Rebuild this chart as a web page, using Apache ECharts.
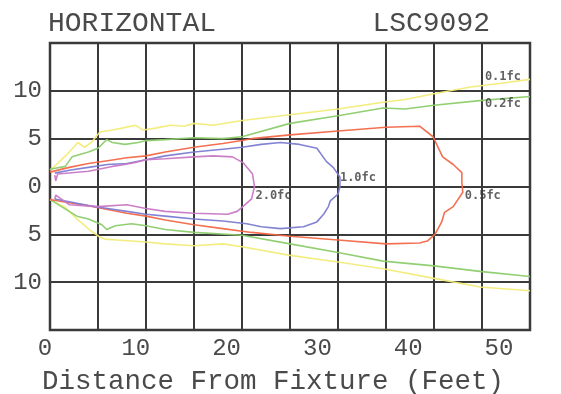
<!DOCTYPE html>
<html>
<head>
<meta charset="utf-8">
<script src="https://cdn.jsdelivr.net/npm/echarts@6/dist/echarts.min.js"></script>
<style>html,body{margin:0;padding:0;background:#fff}#c{width:561px;height:394px}</style>
</head>
<body>
<div id="c"></div>
<script>
const titleLeft = 'HORIZONTAL';
const titleRight = 'LSC9092';
const xAxisTitle = 'Distance From Fixture (Feet)';
const xTickValues = [0, 10, 20, 30, 40, 50];
const yTickValues = [-10, -5, 0, 5, 10];

const fc01Upper = [[0,1.7],[1,2.6],[2,3.6],[2.9,4.6],[3.6,4.1],[4.3,4.6],[5.2,5.7],[6.5,5.9],[7.5,6.1],[8.9,6.4],[9.7,5.9],[11,6.1],[12.5,6.4],[14,6.3],[15,6.6],[17,6.4],[20,6.9],[25,7.5],[30,8.1],[34.7,8.8],[37,9.1],[40,9.7],[43.8,10.4],[47,10.8],[50,11.2]];
const fc01Lower = [[0,-1.4],[1.6,-2.2],[2.8,-3.4],[3.3,-3.8],[4.2,-4.6],[5.2,-5.3],[5.7,-5.5],[7,-5.6],[8.5,-5.7],[10,-5.8],[12,-6.0],[15,-6.2],[18,-6.0],[20,-6.3],[25,-7.2],[30,-7.9],[34.7,-8.6],[40,-9.6],[44.8,-10.5],[50,-10.9]];
const fc02Upper = [[0,1.8],[1.6,2.1],[2.3,3.1],[4,3.6],[5,4.0],[5.9,4.9],[6.5,4.6],[7.8,4.4],[9.2,4.6],[10,4.8],[12,4.9],[15,5.1],[18,5.0],[20,5.2],[25,6.6],[30,7.4],[34.7,8.2],[37,8.1],[40,8.5],[45,9.0],[50,9.4]];
const fc02Lower = [[0,-1.35],[1.2,-2.1],[2.8,-3.1],[4,-3.4],[5.4,-4.0],[5.9,-4.5],[6.8,-4.1],[8.5,-3.9],[10,-4.1],[12,-4.5],[15,-4.8],[20,-5.1],[25,-6.0],[30,-6.9],[34.7,-7.8],[40,-8.3],[45,-8.9],[50,-9.4]];
const fc05 = [[0,1.5],[2,2.0],[4,2.4],[6,2.7],[8,3.0],[10,3.2],[12,3.6],[15,4.1],[18,4.5],[20,4.8],[21,5.0],[25,5.4],[30,5.8],[35,6.2],[38.5,6.3],[39.9,5.2],[40.9,3.1],[42,2.3],[42.9,1.45],[42.9,0.5],[43,-0.6],[42,-2.1],[41.1,-2.7],[40.8,-3.7],[40.1,-5.0],[39.3,-5.7],[38.5,-5.9],[35,-6.0],[30,-5.6],[25,-5.2],[21,-4.8],[18,-4.4],[15,-4.0],[12,-3.5],[10,-3.1],[8,-2.8],[6,-2.4],[4,-2.0],[2,-1.7],[0,-1.35]];
const fc10 = [[0.5,1.4],[2,1.7],[4,2.0],[6,2.3],[8,2.4],[10,2.8],[12,3.2],[15,3.6],[18,3.9],[20,4.1],[22,4.4],[24,4.6],[26,4.4],[27.8,4.0],[28.8,2.6],[29.5,2.0],[30.2,1.0],[30.2,0],[30,-0.8],[29.2,-1.5],[29,-2.1],[28.5,-2.9],[27.8,-3.7],[26.4,-4.2],[24,-4.4],[22,-4.2],[20.5,-3.9],[18,-3.6],[15,-3.4],[12,-3.1],[10,-2.9],[8,-2.6],[6,-2.3],[4,-2.0],[2,-1.6],[0.5,-1.3]];
const fc20 = [[0.5,1.2],[0.6,0.6],[0.8,1.3],[4,1.6],[6.5,2.1],[7.8,2.3],[8.9,2.5],[10,2.8],[12,2.9],[15,3.1],[17,3.2],[19,3.1],[20.1,2.5],[21.1,1.3],[21.3,0],[21,-1.3],[20.2,-2.0],[19.5,-2.6],[18.5,-2.9],[15,-2.8],[12,-2.6],[10,-2.3],[8,-1.9],[5,-2.1],[2,-1.9],[0.6,-0.9],[0.5,-1.3]];

const contourNames = ['0.1fc','0.2fc','0.5fc','1.0fc','2.0fc'];
const contourLabelAt = [[45.3,11.5],[45.3,8.6],[43.2,-1.0],[30.2,0.95],[21.4,-1.0]];

const cYellow = '#f2ec78', cGreen = '#8ccc6c', cRed = '#f26848', cBlue = '#7c7cd2', cPurple = '#c878c6';

function lineSeries(data, color) {
  return { type: 'line', data: data, showSymbol: false, symbol: 'none', silent: true,
    xAxisIndex: 0, yAxisIndex: 0,
    lineStyle: { color: color, width: 1.6, opacity: 0.95 }, z: 3, animation: false };
}

const chart = echarts.init(document.getElementById('c'), null, { renderer: 'canvas' });
const mono = 'Liberation Mono';
const txt = '#4a4a4a';
chart.setOption({
  animation: false,
  backgroundColor: '#ffffff',
  title: [
    { text: titleLeft, left: 43, top: 5, textStyle: { fontFamily: mono, fontSize: 28, fontWeight: 'normal', color: txt } },
    { text: titleRight, right: 66, top: 5, textStyle: { fontFamily: mono, fontSize: 28, fontWeight: 'normal', color: txt } },
    { text: xAxisTitle, left: 37, top: 363, textStyle: { fontFamily: mono, fontSize: 27.5, fontWeight: 'normal', color: txt } }
  ],
  grid: [
    { left: 50, right: 31, top: 43, bottom: 64, show: true, borderColor: '#3a3a3a', borderWidth: 2.5 },
    { left: 45, right: 62, top: 43, bottom: 64, show: false }
  ],
  xAxis: [
    { type: 'value', gridIndex: 0, min: 0, max: 50, interval: 5,
      axisLine: { show: false }, axisTick: { show: false }, axisLabel: { show: false },
      splitLine: { show: true, lineStyle: { color: '#3a3a3a', width: 2 } } },
    { type: 'value', gridIndex: 1, position: 'bottom', min: 0, max: 50,
      axisLine: { show: false }, axisTick: { show: false }, splitLine: { show: false },
      axisLabel: { show: true, customValues: xTickValues, margin: 7, fontFamily: mono, fontSize: 24, color: txt } }
  ],
  yAxis: [
    { type: 'value', gridIndex: 0, min: -15, max: 15, interval: 5,
      axisLine: { show: false }, axisTick: { show: false },
      splitLine: { show: true, lineStyle: { color: '#3a3a3a', width: 2 } },
      axisLabel: { show: true, customValues: yTickValues, margin: 8, fontFamily: mono, fontSize: 24, color: txt,
        formatter: v => String(Math.abs(v)) } },
    { type: 'value', gridIndex: 1, min: -15, max: 15, show: false }
  ],
  series: [
    lineSeries(fc01Upper, cYellow),
    lineSeries(fc01Lower, cYellow),
    lineSeries(fc02Upper, cGreen),
    lineSeries(fc02Lower, cGreen),
    lineSeries(fc05, cRed),
    lineSeries(fc10, cBlue),
    lineSeries(fc20, cPurple),
    { type: 'scatter', xAxisIndex: 0, yAxisIndex: 0, symbolSize: 0, silent: true, z: 5,
      data: contourNames.map((n, i) => ({ name: n, value: contourLabelAt[i] })),
      label: { show: true, position: 'right', distance: 0, formatter: p => p.name,
        fontFamily: 'DejaVu Sans Mono', fontSize: 12, fontWeight: 'bold', color: '#3a3a3a' } }
  ]
});
</script>
</body>
</html>
